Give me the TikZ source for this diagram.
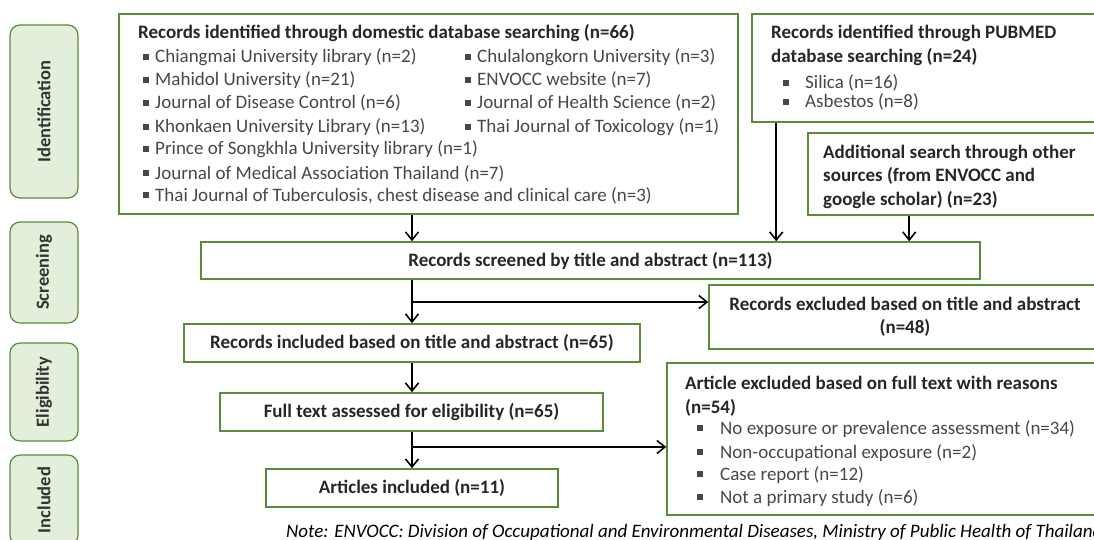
\documentclass[tikz,border=0pt]{standalone}
\usepackage{fontspec}
\setmainfont{Carlito}
\usetikzlibrary{arrows.meta}

\definecolor{boxgreen}{HTML}{5B8C3C}
\definecolor{stagefill}{HTML}{E2EFDA}
\definecolor{itemgray}{HTML}{474747}

\newcommand{\sqbul}[1]{\makebox[#1][l]{\raisebox{0.14em}{\rule{0.32em}{0.32em}}}}

\tikzset{
  box/.style={
    draw=boxgreen,
    line width=1.6pt,
    inner sep=0pt
  },
  stage/.style={
    draw=boxgreen,
    fill=stagefill,
    line width=1.2pt,
    rounded corners=10pt,
    minimum width=68pt,
    inner sep=0pt,
    font=\fontsize{18.5}{20}\selectfont\bfseries,
    text=black!80
  },
  title/.style={
    font=\fontsize{19}{23}\selectfont\bfseries,
    text=black!85,
    align=center
  },
  head/.style={
    font=\fontsize{19}{23}\selectfont\bfseries,
    text=black!85,
    anchor=base west,
    inner sep=0pt
  },
  item/.style={
    font=\fontsize{19}{23}\selectfont,
    text=itemgray,
    anchor=base west,
    inner sep=0pt
  },
  arr/.style={
    -{Straight Barb[length=8pt,width=13pt]},
    line width=1.6pt
  }
}

\begin{document}
\begin{tikzpicture}[x=1pt,y=-1pt]
    \useasboundingbox (0,0) rectangle (1094,540);
    \clip (0,0) rectangle (1094,540);

    % stages
    \node[stage,minimum height=173pt] (id) at (44,111.5) {\rotatebox{90}{Identification}};
    \node[stage,minimum height=101pt] (sc) at (44,272.5) {\rotatebox{90}{Screening}};
    \node[stage,minimum height=98pt] (el) at (44,392) {\rotatebox{90}{Eligibility}};
    \node[stage,minimum height=90pt] (in) at (44,500) {\rotatebox{90}{Included}};

    % identification boxes
    \node[box,minimum width=619pt,minimum height=200pt] (dom) at (428.5,114) {};
    \node[box,minimum width=358pt,minimum height=108pt] (pub) at (931,68) {};
    \node[box,minimum width=302pt,minimum height=82pt] (add) at (959,174) {};

    % domestic sources
    \node[head] (domh) at (138,39) {Records identified through domestic database searching (n=66)};
    \node[item] (d1) at (143,63) {\sqbul{12pt}Chiangmai University library (n=2)};
    \node[item] (d2) at (143,86) {\sqbul{12pt}Mahidol University (n=21)};
    \node[item] (d3) at (143,109) {\sqbul{12pt}Journal of Disease Control (n=6)};
    \node[item] (d4) at (143,133) {\sqbul{12pt}Khonkaen University Library (n=13)};
    \node[item] (d5) at (143,155) {\sqbul{12pt}Prince of Songkhla University library (n=1)};
    \node[item] (d6) at (143,179) {\sqbul{12pt}Journal of Medical Association Thailand (n=7)};
    \node[item] (d7) at (143,201) {\sqbul{12pt}Thai Journal of Tuberculosis, chest disease and clinical care (n=3)};
    \node[item] (d8) at (465,63) {\sqbul{12pt}Chulalongkorn University (n=3)};
    \node[item] (d9) at (465,86) {\sqbul{12pt}ENVOCC website (n=7)};
    \node[item] (d10) at (465,109) {\sqbul{12pt}Journal of Health Science (n=2)};
    \node[item] (d11) at (465,133) {\sqbul{12pt}Thai Journal of Toxicology (n=1)};

    % pubmed
    \node[head] (pubh) at (771,39) {Records identified through PUBMED};
    \node[head] (pubh2) at (771,63) {database searching (n=24)};
    \node[item] (p1) at (783,89) {\sqbul{22pt}Silica (n=16)};
    \node[item] (p2) at (783,108) {\sqbul{22pt}Asbestos (n=8)};

    % other sources
    \node[head] (addh) at (823,159) {Additional search through other};
    \node[head] (addh2) at (823,182) {sources (from ENVOCC and};
    \node[head] (addh3) at (823,205) {google scholar) (n=23)};

    % flow
    \node[box,title,minimum width=779pt,minimum height=37pt] (scr) at (590.5,260.5) {Records screened by title and abstract (n=113)};
    \node[box,title,minimum width=392pt,minimum height=64pt] (exc1) at (905,317) {Records excluded based on title and abstract\\(n=48)};
    \node[box,title,minimum width=456pt,minimum height=38pt] (inc) at (412,343) {Records included based on title and abstract (n=65)};
    \node[box,title,minimum width=383pt,minimum height=38pt] (full) at (411.5,412) {Full text assessed for eligibility (n=65)};
    \node[box,title,minimum width=292pt,minimum height=38pt] (fin) at (412,488) {Articles included (n=11)};
    \node[box,minimum width=443pt,minimum height=152pt] (exc2) at (888.5,439) {};

    % full text exclusions
    \node[head] (exch) at (685,389) {Article excluded based on full text with reasons};
    \node[head] (exch2) at (685,413) {(n=54)};
    \node[item] (e1) at (697,434) {\sqbul{23pt}No exposure or prevalence assessment (n=34)};
    \node[item] (e2) at (697,458) {\sqbul{23pt}Non-occupational exposure (n=2)};
    \node[item] (e3) at (697,480) {\sqbul{23pt}Case report (n=12)};
    \node[item] (e4) at (697,503) {\sqbul{23pt}Not a primary study (n=6)};

    % note
    \node[item,text=black,font=\fontsize{19}{23}\selectfont\itshape] (note) at (286,537) {Note: ENVOCC: Division of Occupational and Environmental Diseases, Ministry of Public Health of Thailand};

    % arrows
    \coordinate (pa) at ([xshift=25pt]pub.south west);
    \coordinate (aa) at ([xshift=102pt]add.south west);
    \coordinate (b1) at (412,302);
    \coordinate (b2) at (412,447);
    \draw[arr] (dom.south -| inc.north) -- (scr.north -| inc.north);
    \draw[arr] (pa) -- (pa |- scr.north);
    \draw[arr] (aa) -- (aa |- scr.north);
    \draw[arr] (scr.south -| inc.north) -- (inc.north);
    \draw[arr] (b1) -- (b1 -| exc1.west);
    \draw[arr] (inc.south) -- (full.north -| inc.south);
    \draw[arr] (full.south -| fin.north) -- (fin.north);
    \draw[arr] (b2) -- (b2 -| exc2.west);
\end{tikzpicture}
\end{document}
